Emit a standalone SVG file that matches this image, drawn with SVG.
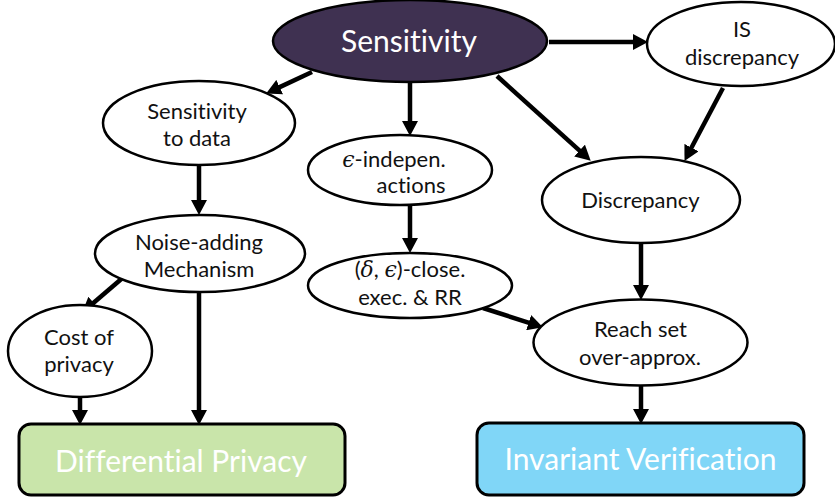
<svg xmlns="http://www.w3.org/2000/svg" width="835" height="498" viewBox="0 0 835 498">
<style>
text{font-variant-ligatures:none}
.n{fill:#fff;stroke:#000;stroke-width:2.5}
.t{font-family:Lato,"Liberation Sans",sans-serif;font-size:22px;fill:#111;text-anchor:middle}
.m{font-family:"DejaVu Serif","Liberation Serif",serif;font-style:italic}
.b{stroke:#000;stroke-width:3;rx:12;ry:12}
.bt{font-family:Lato,"Liberation Sans",sans-serif;font-weight:400;font-size:30px;fill:#fff;text-anchor:middle}
.c line{stroke:#000;stroke-width:4.5;marker-end:url(#ah)}
</style>
<defs>
<marker id="ah" markerUnits="userSpaceOnUse" markerWidth="15" markerHeight="16" refX="3" refY="8" orient="auto">
<path d="M0,0 L15,8 L0,16 z" fill="#000"/>
</marker>
</defs>
<g id="connectors" class="c">
<line x1="312" y1="72" x2="277" y2="88.4"/>
<line x1="410" y1="82" x2="410" y2="124"/>
<line x1="497" y1="76" x2="581.8" y2="152.6"/>
<line x1="549" y1="42" x2="636" y2="42"/>
<line x1="723" y1="88" x2="690.1" y2="150.3"/>
<line x1="199" y1="165" x2="199" y2="203"/>
<line x1="126" y1="275" x2="91.3" y2="304.8"/>
<line x1="199" y1="292" x2="199" y2="413"/>
<line x1="80" y1="397" x2="80" y2="413"/>
<line x1="410" y1="205" x2="410" y2="241"/>
<line x1="483" y1="308" x2="531.5" y2="323.6"/>
<line x1="641" y1="243" x2="641" y2="288"/>
<line x1="641" y1="386" x2="641" y2="412"/>
</g>
<g id="sensitivity">
<ellipse cx="410" cy="41" rx="137" ry="41" fill="#3F3151" stroke="#000" stroke-width="2.5"/>
<text x="409" y="52" class="t" style="font-size:30px;fill:#fff">Sensitivity</text>
</g>
<g id="is-discrepancy">
<ellipse class="n" cx="741" cy="44" rx="94" ry="42"/>
<text class="t" x="742" y="37">IS</text>
<text class="t" x="742" y="65">discrepancy</text>
</g>
<g id="discrepancy">
<ellipse class="n" cx="641" cy="200" rx="99" ry="43"/>
<text class="t" x="640.5" y="208">Discrepancy</text>
</g>
<g id="sensitivity-to-data">
<ellipse class="n" cx="199" cy="123" rx="96" ry="42"/>
<text class="t" x="197" y="119">Sensitivity</text>
<text class="t" x="197" y="146">to data</text>
</g>
<g id="noise-adding">
<ellipse class="n" cx="200" cy="253.5" rx="105" ry="38.5"/>
<text class="t" x="199" y="250">Noise-adding</text>
<text class="t" x="199" y="277">Mechanism</text>
</g>
<g id="cost-of-privacy">
<ellipse class="n" cx="80" cy="351" rx="72" ry="46"/>
<text class="t" x="79" y="345">Cost of</text>
<text class="t" x="79" y="372">privacy</text>
</g>
<g id="eps-indep">
<ellipse class="n" cx="400" cy="170" rx="92" ry="35"/>
<text class="t" x="394" y="167"><tspan class="m">ϵ</tspan>-indepen.</text>
<text class="t" x="411" y="193">actions</text>
</g>
<g id="delta-eps-close">
<ellipse class="n" cx="410" cy="285.5" rx="102" ry="32.5"/>
<text class="t" x="410" y="277">(<tspan class="m">δ</tspan>, <tspan class="m">ϵ</tspan>)-close.</text>
<text class="t" x="410" y="305">exec. &amp; RR</text>
</g>
<g id="reach-set">
<ellipse class="n" cx="640.5" cy="342.5" rx="107" ry="43"/>
<text class="t" x="640.5" y="337">Reach set</text>
<text class="t" x="640" y="365">over-approx.</text>
</g>
<g id="differential-privacy">
<rect class="b" x="19" y="424" width="326" height="71" fill="#C9E5AA"/>
<text class="bt" x="181" y="472">Differential Privacy</text>
</g>
<g id="invariant-verification">
<rect class="b" x="477" y="423" width="327" height="72" fill="#80D6F7"/>
<text class="bt" x="640.5" y="470">Invariant Verification</text>
</g>
</svg>
